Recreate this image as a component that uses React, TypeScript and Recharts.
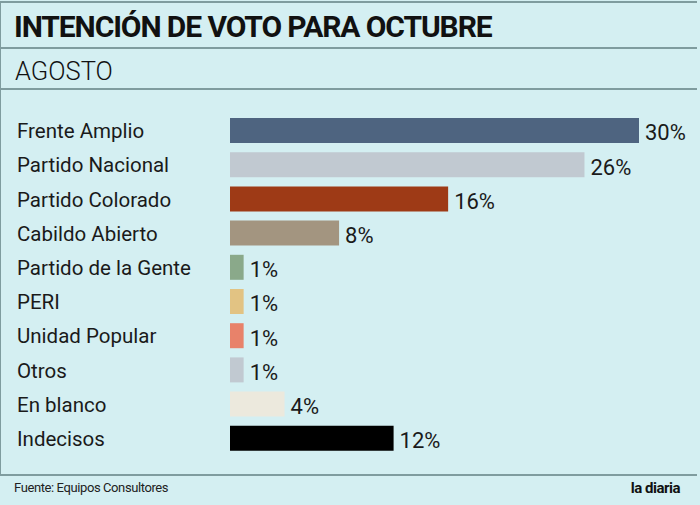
import { Bar, BarChart, Cell, LabelList, XAxis, YAxis } from 'recharts'

const parties = [
  'Frente Amplio',
  'Partido Nacional',
  'Partido Colorado',
  'Cabildo Abierto',
  'Partido de la Gente',
  'PERI',
  'Unidad Popular',
  'Otros',
  'En blanco',
  'Indecisos',
]
const votes = [30, 26, 16, 8, 1, 1, 1, 1, 4, 12]
const barColors = [
  '#4e6480',
  '#c1c9d1',
  '#9e3a16',
  '#a39580',
  '#8aa98a',
  '#e2c383',
  '#e8826a',
  '#c1c9d1',
  '#ece9dd',
  '#000000',
]

const data = parties.map((name, i) => ({ name, value: votes[i] }))

const FONT = 'Roboto, "Noto Sans", sans-serif'
const BG = '#d4eff2'
const RULE = '#7f9c9f'

function PartyTick({ y, payload }: { y?: number; payload?: { value: string } }) {
  return (
    <text x={17} y={y} dy={8} textAnchor="start" fill="#1a1a1a" fontSize={20.5} fontFamily={FONT}>
      {payload?.value}
    </text>
  )
}

function Rule({ top }: { top: number }) {
  return <div style={{ position: 'absolute', left: 0, top, width: 697, height: 2, background: RULE }} />
}

export default function App() {
  return (
    <div
      style={{
        position: 'absolute',
        left: 0,
        top: 0,
        width: 700,
        height: 505,
        background: BG,
        fontFamily: FONT,
        overflow: 'hidden',
      }}
    >
      <div style={{ position: 'absolute', left: 0, top: 1, width: 1, height: 475, background: RULE }} />
      <Rule top={1} />
      <div
        style={{
          position: 'absolute',
          left: 14,
          top: 7,
          fontSize: 30,
          fontWeight: 700,
          color: '#111',
          lineHeight: '40px',
          letterSpacing: -1.1,
        }}
      >
        INTENCIÓN DE VOTO PARA OCTUBRE
      </div>
      <Rule top={47} />
      <div
        style={{
          position: 'absolute',
          left: 15,
          top: 53,
          fontSize: 25.5,
          fontWeight: 300,
          color: '#111',
          lineHeight: '36px',
        }}
      >
        AGOSTO
      </div>
      <Rule top={88} />

      <div style={{ position: 'absolute', left: 0, top: 0 }}>
        <BarChart
          width={700}
          height={505}
          data={data}
          layout="vertical"
          margin={{ top: 113, right: 61, left: 0, bottom: 50 }}
        >
          <XAxis type="number" domain={[0, 30]} hide />
          <YAxis
            type="category"
            dataKey="name"
            width={230}
            axisLine={false}
            tickLine={false}
            tick={<PartyTick />}
            interval={0}
          />
          <Bar dataKey="value" barSize={25} isAnimationActive={false}>
            {data.map((d, i) => (
              <Cell key={d.name} fill={barColors[i]} />
            ))}
            <LabelList
              dataKey="value"
              position="right"
              offset={6}
              formatter={(v: number) => `${v}%`}
              style={{ fill: '#1a1a1a', fontSize: 22, fontFamily: FONT, transform: 'translateY(2px)' }}
            />
          </Bar>
        </BarChart>
      </div>

      <Rule top={474} />
      <div style={{ position: 'absolute', left: 14, top: 480, fontSize: 13, color: '#222', letterSpacing: -0.4 }}>
        Fuente: Equipos Consultores
      </div>
      <div
        style={{
          position: 'absolute',
          right: 20,
          top: 479,
          fontSize: 15,
          fontWeight: 700,
          color: '#111',
          letterSpacing: -0.5,
        }}
      >
        la diaria
      </div>
    </div>
  )
}
